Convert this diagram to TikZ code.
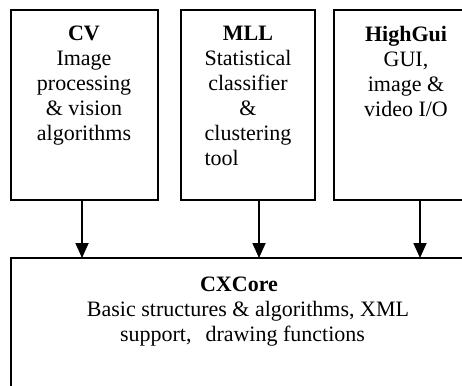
\documentclass[tikz,border=0pt]{standalone}
\usepackage{fontspec}
\setmainfont{Liberation Serif}
\usetikzlibrary{arrows.meta}
\begin{document}
\begin{tikzpicture}[x=1pt,y=-1pt,
  module/.style={draw=black, line width=1.4pt, minimum width=0pt},
  body/.style={font=\fontsize{22}{25}\selectfont, align=center, inner sep=0pt, anchor=north},
  feed/.style={line width=1.8pt, -{Triangle[length=15pt,width=13pt]}}]
  \useasboundingbox (0,0) rectangle (462,385);
  \clip (0,0) rectangle (462,385);

  % module frames
  \draw[module] (11,10) rectangle (158,200);
  \draw[module] (181,10) rectangle (315,200);
  \draw[module] (334,10) rectangle (475,200);
  \draw[module] (11,258) rectangle (475,400);

  % anchors used by the connectors
  \node[inner sep=0pt] (cvbox)  at (84.5,200) {};
  \node[inner sep=0pt] (mllbox) at (248,200) {};
  \node[inner sep=0pt] (hgbox)  at (404,200) {};
  \node[inner sep=0pt] (core)   at (243,258) {};

  % module descriptions
  \node[body] (cv) at (84,26)
    {\textbf{CV}\\Image\\processing\\\& vision\\algorithms};
  \node[body] (mll) at (248,26)
    {\textbf{MLL}\\Statistical\\classifier\\\&\\clustering\\\rlap{tool}\phantom{clustering}};
  \node[body] (hg) at (406,26)
    {\textbf{HighGui}\\GUI,\\image \&\\video I/O};
  \node[body] (cxcore) at (248,277)
    {\textbf{CXCore}\hspace*{18pt}\\Basic structures \& algorithms, XML\\support,\hspace{14pt}drawing functions\hspace*{11pt}};

  % dependencies on the core
  \coordinate (a1) at ([xshift=-2.5pt]cvbox.center);
  \coordinate (a2) at ([xshift=11pt]mllbox.center);
  \coordinate (a3) at ([xshift=16pt]hgbox.center);
  \draw[feed] (a1) -- (a1 |- core.center);
  \draw[feed] (a2) -- (a2 |- core.center);
  \draw[feed] (a3) -- (a3 |- core.center);
\end{tikzpicture}
\end{document}
